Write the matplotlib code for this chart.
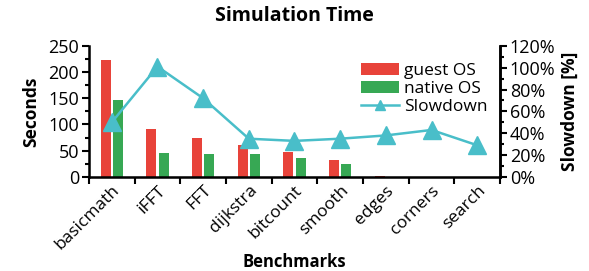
import numpy as np
import matplotlib.pyplot as plt
from matplotlib.ticker import MultipleLocator, FuncFormatter

plt.rcParams['font.family'] = ['Open Sans', 'DejaVu Sans']

benchmarks = ["basicmath", "iFFT", "FFT", "dijkstra", "bitcount", "smooth", "edges", "corners", "search"]
guest_os = [222, 91, 75, 60, 48, 33, 1.2, 0.6, 0.3]
native_os = [147, 45, 44, 44, 36, 25, 0.8, 0.4, 0.2]
slowdown = [50, 101, 72, 35, 33, 35, 38, 43, 29]

red = "#E8433A"
green = "#37A854"
teal = "#49BEC9"

fig = plt.figure(figsize=(5.89, 2.71), dpi=100)
ax = fig.add_axes([0.151, 0.347, 0.698, 0.484])
x = np.arange(len(benchmarks))
w = 0.22
ax.bar(x - 0.135, guest_os, w, color=red, label="guest OS")
ax.bar(x + 0.135, native_os, w, color=green, label="native OS")
ax.set_xlim(-0.5, len(benchmarks) - 0.5)
ax.set_ylim(0, 250)
ax.yaxis.set_major_locator(MultipleLocator(50))
ax.yaxis.set_minor_locator(MultipleLocator(25))
ax.set_xticks(x)
ax.set_xticklabels(benchmarks, rotation=45, ha="right", rotation_mode="anchor", fontsize=12.5)
ax.set_xticks(np.arange(-0.5, len(benchmarks)), minor=True)
ax.tick_params(axis="x", which="major", length=0, pad=4)
ax.tick_params(axis="x", which="minor", length=5, width=1.5)
ax.tick_params(axis="y", which="major", length=5, width=1.5, labelsize=13, pad=2)
ax.tick_params(axis="y", which="minor", length=3, width=1.5)
ax.spines["top"].set_visible(False)
for s in ["left", "bottom", "right"]:
    ax.spines[s].set_linewidth(1.8)
ax.set_ylabel("Seconds", fontweight="bold", fontsize=12.5, labelpad=6)
ax.set_xlabel("Benchmarks", fontweight="bold", fontsize=12, labelpad=0)
ax.set_title("Simulation Time", fontweight="bold", fontsize=14, pad=18)

ax2 = ax.twinx()
ax2.plot(x, slowdown, color=teal, lw=1.8, marker="^", markersize=13, label="Slowdown")
ax2.set_ylim(0, 120)
ax2.yaxis.set_major_locator(MultipleLocator(20))
ax2.yaxis.set_minor_locator(MultipleLocator(10))
ax2.yaxis.set_major_formatter(FuncFormatter(lambda v, p: f"{v:.0f}%"))
ax2.tick_params(axis="y", which="major", length=5, width=1.5, labelsize=13, pad=2)
ax2.tick_params(axis="y", which="minor", length=3, width=1.5)
ax2.spines["top"].set_visible(False)
ax2.spines["right"].set_linewidth(1.8)
ax2.set_ylabel("Slowdown [%]", fontweight="bold", fontsize=12.5, labelpad=4)

h1, l1 = ax.get_legend_handles_labels()
h2, l2 = ax2.get_legend_handles_labels()
ax2.legend(h1 + h2, l1 + l2, loc="upper right", bbox_to_anchor=(1.0, 0.96), frameon=False,
           fontsize=12.5, handlelength=2.2, handletextpad=0.3, labelspacing=0.1, borderpad=0.2,
           markerscale=0.6)

fig.savefig("out.png", dpi=100)
